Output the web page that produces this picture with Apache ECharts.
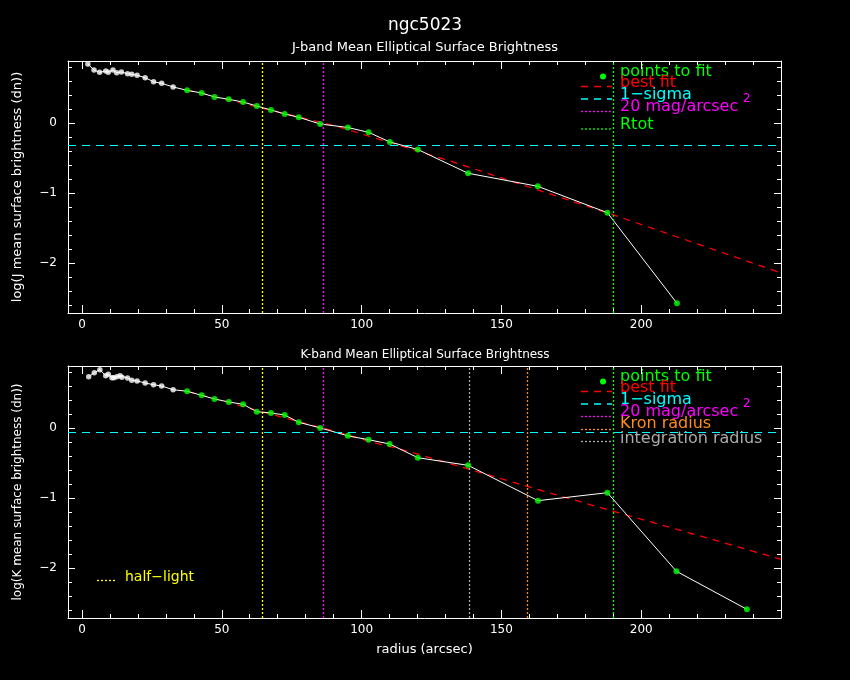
<!DOCTYPE html>
<html>
<head>
<meta charset="utf-8">
<title>ngc5023</title>
<script src="https://cdn.jsdelivr.net/npm/echarts@6/dist/echarts.min.js"></script>
<style>
    html, body {margin: 0; padding: 0; background: #000;}
    #chart {width: 850px; height: 680px;}
</style>
</head>
<body>
<div id="chart"></div>
<script>
// J band profile (radius in arcsec, log mean surface brightness)
var jFreeR = [2.1, 4.3, 6.3, 8.5, 9.4, 11.1, 12.4, 14.1, 16.3, 17.8, 19.7, 22.6, 25.6, 28.5, 32.6];
var jFreeV = [0.847, 0.761, 0.729, 0.747, 0.729, 0.761, 0.723, 0.733, 0.709, 0.700, 0.686, 0.651, 0.594, 0.571, 0.519];
var jFitR = [37.6, 42.8, 47.4, 52.5, 57.6, 62.5, 67.6, 72.5, 77.5, 85.2, 95.1, 102.5, 110.1, 120.1, 138.1, 163.0, 187.9, 212.8];
var jFitV = [0.471, 0.433, 0.376, 0.343, 0.304, 0.247, 0.190, 0.133, 0.086, -0.010, -0.060, -0.129, -0.267, -0.374, -0.714, -0.900, -1.277, -2.571];
var jBestR = [37.6, 39.1, 79.5, 90.8, 99.8, 123.6, 132.5, 154.5, 192.0, 220.6, 248.4, 250];
var jBestV = [0.475, 0.461, 0.071, -0.039, -0.149, -0.439, -0.549, -0.839, -1.334, -1.729, -2.114, -2.135];
var jSigma = -0.31;

// K band profile
var kFreeR = [2.4, 4.4, 6.4, 8.5, 9.4, 10.7, 11.4, 12.5, 13.6, 14.3, 16.3, 17.8, 19.7, 22.6, 25.6, 28.5, 32.6];
var kFreeV = [0.737, 0.794, 0.837, 0.751, 0.771, 0.723, 0.723, 0.737, 0.751, 0.729, 0.719, 0.686, 0.676, 0.647, 0.623, 0.604, 0.551];
var kFitR = [37.6, 42.8, 47.4, 52.5, 57.6, 62.5, 67.6, 72.5, 77.5, 85.2, 95.1, 102.5, 110.0, 120.1, 138.1, 163.1, 187.9, 212.6, 237.8];
var kFitV = [0.529, 0.471, 0.419, 0.376, 0.343, 0.237, 0.219, 0.190, 0.086, 0.006, -0.108, -0.163, -0.224, -0.420, -0.529, -1.034, -0.920, -2.043, -2.586];
var kBestR = [37.6, 39.1, 76.6, 90.2, 104.5, 114.1, 132.5, 141.4, 169.4, 196.8, 225.4, 249.2, 250];
var kBestV = [0.530, 0.514, 0.104, -0.039, -0.206, -0.300, -0.514, -0.620, -0.948, -1.263, -1.586, -1.863, -1.872];
var kSigma = -0.057;

// radii of the vertical marker lines
var halfLight = 64.5;
var mag20 = 86.3;
var rTot = 190;
var kKron = 159.1;
var kInteg = 138.6;

// ticks
var xMajor = [0, 50, 100, 150, 200];
var xMinor = [10, 20, 30, 40, 60, 70, 80, 90, 110, 120, 130, 140, 160, 170, 180, 190, 210, 220, 230, 240];
var yMajor = [-2, -1, 0];
var yMinor = [-2.6, -2.4, -2.2, -1.8, -1.6, -1.4, -1.2, -0.8, -0.6, -0.4, -0.2, 0.2, 0.4, 0.6, 0.8];

var FONT = 'DejaVu Sans';
var WHITE = '#ffffff';

function pairs(r, v) {
    return r.map(function (x, i) {
        return [x, v[i]];
    });
}

function minusSign(v) {
    return String(v).replace('-', '\u2212');
}

function xAxes(g, name) {
    var line = {onZero: false, lineStyle: {color: WHITE, width: 1}};
    var list = [];
    ['bottom', 'top'].forEach(function (pos) {
        list.push({
            gridIndex: g, type: 'value', position: pos, min: -5, max: 250,
            splitLine: {show: false},
            axisLine: line,
            axisTick: {inside: true, length: 8, customValues: xMajor, lineStyle: {color: WHITE}},
            axisLabel: {
                show: pos === 'bottom', customValues: xMajor, color: WHITE,
                fontSize: 12, fontFamily: FONT, margin: 6
            },
            name: pos === 'bottom' ? name : '',
            nameLocation: 'middle', nameGap: 25,
            nameTextStyle: {color: WHITE, fontSize: 13, fontFamily: FONT}
        });
        list.push({
            gridIndex: g, type: 'value', position: pos, min: -5, max: 250,
            splitLine: {show: false},
            axisLine: {show: false, onZero: false},
            axisTick: {inside: true, length: 4, customValues: xMinor, lineStyle: {color: WHITE}},
            axisLabel: {show: false}
        });
    });
    return list;
}

function yAxes(g, name, nameSize) {
    var line = {onZero: false, lineStyle: {color: WHITE, width: 1}};
    var list = [];
    ['left', 'right'].forEach(function (pos) {
        list.push({
            gridIndex: g, type: 'value', position: pos, min: -2.71, max: 0.89,
            splitLine: {show: false},
            axisLine: line,
            axisTick: {inside: true, length: 7, customValues: yMajor, lineStyle: {color: WHITE}},
            axisLabel: {
                show: pos === 'left', customValues: yMajor, color: WHITE,
                fontSize: 12, fontFamily: FONT, margin: 11, formatter: minusSign
            },
            name: pos === 'left' ? name : '',
            nameLocation: 'middle', nameRotate: 90, nameGap: 44,
            nameTextStyle: {color: WHITE, fontSize: nameSize, fontFamily: FONT}
        });
        list.push({
            gridIndex: g, type: 'value', position: pos, min: -2.71, max: 0.89,
            splitLine: {show: false},
            axisLine: {show: false, onZero: false},
            axisTick: {inside: true, length: 4, customValues: yMinor, lineStyle: {color: WHITE}},
            axisLabel: {show: false}
        });
    });
    return list;
}

function vLine(x, color) {
    return {xAxis: x, lineStyle: {color: color, type: [2, 2], width: 1.3}};
}

function panelSeries(axisIndex, freeR, freeV, fitR, fitV, bestR, bestV, sigma, marks) {
    return [
        {
            name: 'best fit', type: 'line', xAxisIndex: axisIndex, yAxisIndex: axisIndex,
            data: pairs(bestR, bestV), symbol: 'none', z: 2,
            lineStyle: {color: '#ff0000', width: 1.3, type: [7, 6]},
            markLine: {
                silent: true, symbol: 'none', label: {show: false}, animation: false,
                data: marks.concat([{yAxis: sigma, lineStyle: {color: '#00ffff', type: [8, 6], width: 1.2}}])
            }
        },
        {
            name: 'profile', type: 'line', xAxisIndex: axisIndex, yAxisIndex: axisIndex,
            data: pairs(freeR.concat(fitR), freeV.concat(fitV)), symbol: 'none', z: 3,
            lineStyle: {color: WHITE, width: 1}
        },
        {
            name: 'points', type: 'scatter', xAxisIndex: axisIndex, yAxisIndex: axisIndex,
            data: pairs(freeR, freeV), symbol: 'circle', symbolSize: 5.5, z: 4,
            itemStyle: {color: WHITE}
        },
        {
            name: 'points to fit', type: 'scatter', xAxisIndex: axisIndex, yAxisIndex: axisIndex,
            data: pairs(fitR, fitV), symbol: 'circle', symbolSize: 6, z: 5,
            itemStyle: {color: '#00ff00'}
        }
    ];
}

function legendText(text, x, y, color, size) {
    return {
        type: 'text', x: x, y: y, silent: true,
        style: {text: text, fill: color, font: (size || 16) + 'px "' + FONT + '"', verticalAlign: 'middle'}
    };
}

function legendLine(x1, x2, y, color, dash) {
    return {
        type: 'line', silent: true,
        shape: {x1: x1, y1: y, x2: x2, y2: y},
        style: {stroke: color, lineWidth: 1.3, lineDash: dash}
    };
}

function legendBlock(dy) {
    return [
        {type: 'circle', silent: true, shape: {cx: 603, cy: 76.5 + dy, r: 3}, style: {fill: '#00ff00'}},
        legendText('points to fit', 620, 71.5 + dy, '#00ff00'),
        legendLine(581, 612, 86.5 + dy, '#ff0000', [7, 6]),
        legendText('best fit', 620, 82.5 + dy, '#ff0000'),
        legendLine(581, 612, 99 + dy, '#00ffff', [7, 6]),
        legendText('1\u2212sigma', 620, 94.5 + dy, '#00ffff'),
        legendLine(581, 612, 111.5 + dy, '#ff00ff', [2, 2]),
        legendText('20 mag/arcsec', 620, 107 + dy, '#ff00ff'),
        legendText('2', 743, 99 + dy, '#ff00ff', 12)
    ];
}

var myChart = echarts.init(document.getElementById('chart'));

var graphics = legendBlock(0).concat([
    legendLine(581, 612, 129, '#00ff00', [2, 2]),
    legendText('Rtot', 620, 124.5, '#00ff00')
]).concat(legendBlock(305)).concat([
    legendLine(581, 612, 429.5, '#ff8c1a', [2, 2]),
    legendText('Kron radius', 620, 423.5, '#ff8c1a'),
    legendLine(581, 612, 441.5, '#aaaaaa', [2, 2]),
    legendText('integration radius', 620, 438.5, '#aaaaaa'),
    legendLine(97, 117, 580.5, '#ffff00', [2, 2]),
    legendText('half\u2212light', 125, 577, '#ffff00', 14)
]);

var option = {
    backgroundColor: '#000000',
    animation: false,
    title: [
        {text: 'ngc5023', left: 'center', top: 12, textStyle: {color: WHITE, fontSize: 17, fontWeight: 'normal', fontFamily: FONT}},
        {text: 'J-band Mean Elliptical Surface Brightness', left: 'center', top: 36, textStyle: {color: WHITE, fontSize: 13, fontWeight: 'normal', fontFamily: FONT}},
        {text: 'K-band Mean Elliptical Surface Brightness', left: 'center', top: 344, textStyle: {color: WHITE, fontSize: 12, fontWeight: 'normal', fontFamily: FONT}}
    ],
    grid: [
        {left: 68, top: 61, width: 713, height: 252},
        {left: 68, top: 366, width: 713, height: 252}
    ],
    xAxis: xAxes(0, '').concat(xAxes(1, 'radius (arcsec)')),
    yAxis: yAxes(0, 'log(J mean surface brightness (dn))', 13).concat(yAxes(1, 'log(K mean surface brightness (dn))', 12)),
    series: panelSeries(0, jFreeR, jFreeV, jFitR, jFitV, jBestR, jBestV, jSigma, [
        vLine(halfLight, '#ffff00'), vLine(mag20, '#ff00ff'), vLine(rTot, '#00ff00')
    ]).concat(panelSeries(4, kFreeR, kFreeV, kFitR, kFitV, kBestR, kBestV, kSigma, [
        vLine(halfLight, '#ffff00'), vLine(mag20, '#ff00ff'), vLine(kInteg, '#aaaaaa'),
        vLine(kKron, '#ff8c1a'), vLine(rTot, '#00ff00')
    ])),
    graphic: graphics
};

myChart.setOption(option);
</script>
</body>
</html>
